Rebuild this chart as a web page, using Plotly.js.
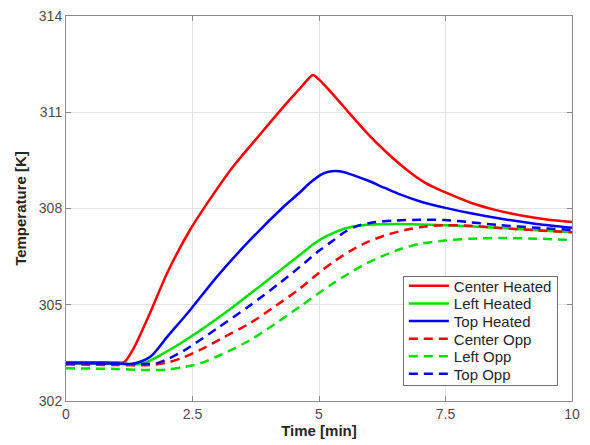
<!DOCTYPE html>
<html>
<head>
<meta charset="utf-8">
<script src="https://cdn.plot.ly/plotly-3.0.1.min.js"></script>
<style>html,body{margin:0;padding:0;background:#fff;}#chart{width:590px;height:445px;}</style>
</head>
<body>
<div id="chart"></div>
<script>
// Data
const centerHeatedX = [0, 0.5, 1.0, 1.15, 1.32, 1.66, 2.0, 2.45, 2.85, 3.3, 3.83, 4.37, 4.6, 4.75, 4.88, 5.0, 5.28, 5.61, 5.95, 6.3, 6.7, 7.1, 7.5, 8.0, 8.5, 9.0, 9.5, 10];
const centerHeatedY = [303.21, 303.21, 303.2, 303.21, 303.59, 304.74, 305.99, 307.33, 308.3, 309.3, 310.3, 311.3, 311.7, 311.97, 312.16, 312.02, 311.55, 310.95, 310.35, 309.8, 309.25, 308.8, 308.5, 308.18, 307.95, 307.78, 307.66, 307.58];

const leftHeatedX = [0, 0.5, 1.0, 1.5, 2.0, 2.65, 3.3, 3.97, 4.62, 4.9, 5.1, 5.3, 5.5, 5.8, 6.2, 6.6, 7.0, 7.49, 8.5, 10];
const leftHeatedY = [303.18, 303.17, 303.16, 303.16, 303.55, 304.2, 304.93, 305.75, 306.55, 306.9, 307.1, 307.25, 307.37, 307.47, 307.51, 307.52, 307.5, 307.48, 307.4, 307.26];

const topHeatedX = [0, 0.5, 1.0, 1.3, 1.66, 2.0, 2.45, 2.98, 3.64, 4.29, 4.62, 4.8, 4.96, 5.1, 5.25, 5.4, 5.6, 5.95, 6.3, 6.6, 7.0, 7.5, 8.0, 8.6, 9.3, 10];
const topHeatedY = [303.18, 303.18, 303.17, 303.15, 303.37, 304.0, 304.83, 305.87, 307.02, 308.04, 308.5, 308.77, 308.97, 309.1, 309.16, 309.16, 309.08, 308.88, 308.64, 308.44, 308.22, 308.02, 307.85, 307.68, 307.52, 307.4];

const centerOppX = [0, 0.5, 1.0, 1.66, 2.0, 2.31, 2.65, 3.1, 3.64, 4.13, 4.62, 5.0, 5.28, 5.6, 5.95, 6.3, 6.7, 7.1, 7.5, 8.0, 8.58, 9.3, 10];
const centerOppY = [303.14, 303.13, 303.12, 303.12, 303.2, 303.35, 303.59, 303.97, 304.43, 304.95, 305.5, 306.0, 306.33, 306.66, 306.95, 307.16, 307.33, 307.44, 307.48, 307.46, 307.39, 307.32, 307.26];

const leftOppX = [0, 0.5, 1.0, 1.5, 2.0, 2.3, 2.65, 3.1, 3.64, 4.13, 4.62, 5.28, 5.95, 6.6, 7.0, 7.49, 8.0, 8.58, 9.3, 10];
const leftOppY = [303.02, 303.01, 303.0, 302.97, 302.98, 303.05, 303.17, 303.47, 303.9, 304.4, 304.94, 305.67, 306.3, 306.73, 306.9, 307.0, 307.06, 307.08, 307.06, 307.02];

const topOppX = [0, 0.5, 1.0, 1.5, 1.8, 2.0, 2.31, 2.65, 3.0, 3.64, 4.2, 4.62, 5.0, 5.28, 5.5, 5.75, 6.0, 6.46, 7.0, 7.49, 8.0, 8.58, 9.3, 10];
const topOppY = [303.17, 303.17, 303.16, 303.15, 303.18, 303.3, 303.55, 303.9, 304.28, 304.98, 305.65, 306.18, 306.68, 307.0, 307.26, 307.45, 307.55, 307.62, 307.65, 307.64, 307.57, 307.48, 307.4, 307.33];

const seriesNames = ["Center Heated", "Left Heated", "Top Heated", "Center Opp", "Left Opp", "Top Opp"];
const xTicks = [0, 2.5, 5, 7.5, 10];
const xTickText = ["0", "2.5", "5", "7.5", "10"];
const yTicks = [302, 305, 308, 311, 314];

const xs = [centerHeatedX, leftHeatedX, topHeatedX, centerOppX, leftOppX, topOppX];
const ys = [centerHeatedY, leftHeatedY, topHeatedY, centerOppY, leftOppY, topOppY];
const colors = ["#ff0000", "#00e000", "#0000ff", "#ff0000", "#00e000", "#0000ff"];
const dashes = ["solid", "solid", "solid", "9px,6px", "9px,6px", "9px,6px"];

const traces = seriesNames.map((n, i) => ({
  x: xs[i], y: ys[i], name: n, type: "scatter", mode: "lines",
  line: {color: colors[i], width: 2.5, dash: dashes[i], shape: "spline", smoothing: 0.8}
}));

const fontFam = "Arial, Liberation Sans, sans-serif";
const axisCommon = {
  showline: true, linecolor: "#8a8a8a", linewidth: 1, mirror: "ticks",
  ticks: "inside", ticklen: 5, tickcolor: "#8a8a8a",
  showgrid: true, gridcolor: "#e3e3e3", gridwidth: 1, zeroline: false,
  tickfont: {family: fontFam, size: 14, color: "#4d4d4d"}
};

const layout = {
  width: 590, height: 445,
  margin: {l: 66, r: 18, t: 16, b: 44},
  paper_bgcolor: "#fff", plot_bgcolor: "#fff",
  showlegend: true,
  xaxis: Object.assign({}, axisCommon, {
    range: [0, 10], tickvals: xTicks, ticktext: xTickText,
    title: {text: "<b>Time [min]</b>", font: {family: fontFam, size: 15, color: "#262626"}, standoff: 4}
  }),
  yaxis: Object.assign({}, axisCommon, {
    range: [302, 314], tickvals: yTicks,
    title: {text: "<b>Temperature [K]</b>", font: {family: fontFam, size: 15, color: "#262626"}, standoff: 8}
  }),
  legend: {
    x: 0.972, y: 0.04, xanchor: "right", yanchor: "bottom",
    bgcolor: "#fff", bordercolor: "#707070", borderwidth: 1,
    font: {family: fontFam, size: 15, color: "#262626"},
    tracegroupgap: 0, itemwidth: 40
  }
};

Plotly.newPlot("chart", traces, layout, {displayModeBar: false, staticPlot: true}).then(function (gd) {
  // tighten legend row spacing to match the reference (MATLAB-style compact legend)
  try {
    const leg = gd.querySelector("g.legend");
    const items = leg.querySelectorAll("g.traces");
    const bg = leg.querySelector("rect.bg");
    const getXY = el => {
      const m = /translate\(\s*([-\d.]+)[ ,]+([-\d.]+)\s*\)/.exec(el.getAttribute("transform") || "");
      return m ? [parseFloat(m[1]), parseFloat(m[2])] : [0, 0];
    };
    if (items.length > 1 && bg) {
      const p0 = getXY(items[0]);
      const newStep = 17.6;
      const newH = 109;
      items.forEach((it, i) => {
        const p = getXY(it);
        it.setAttribute("transform", "translate(" + p[0] + "," + (p0[1] - 7 + i * newStep) + ")");
      });
      const h = parseFloat(bg.getAttribute("height"));
      bg.setAttribute("height", newH);
      const lp = getXY(leg);
      leg.setAttribute("transform", "translate(" + lp[0] + "," + (lp[1] + (h - newH)) + ")");
    }
  } catch (e) {}
});
</script>
</body>
</html>
